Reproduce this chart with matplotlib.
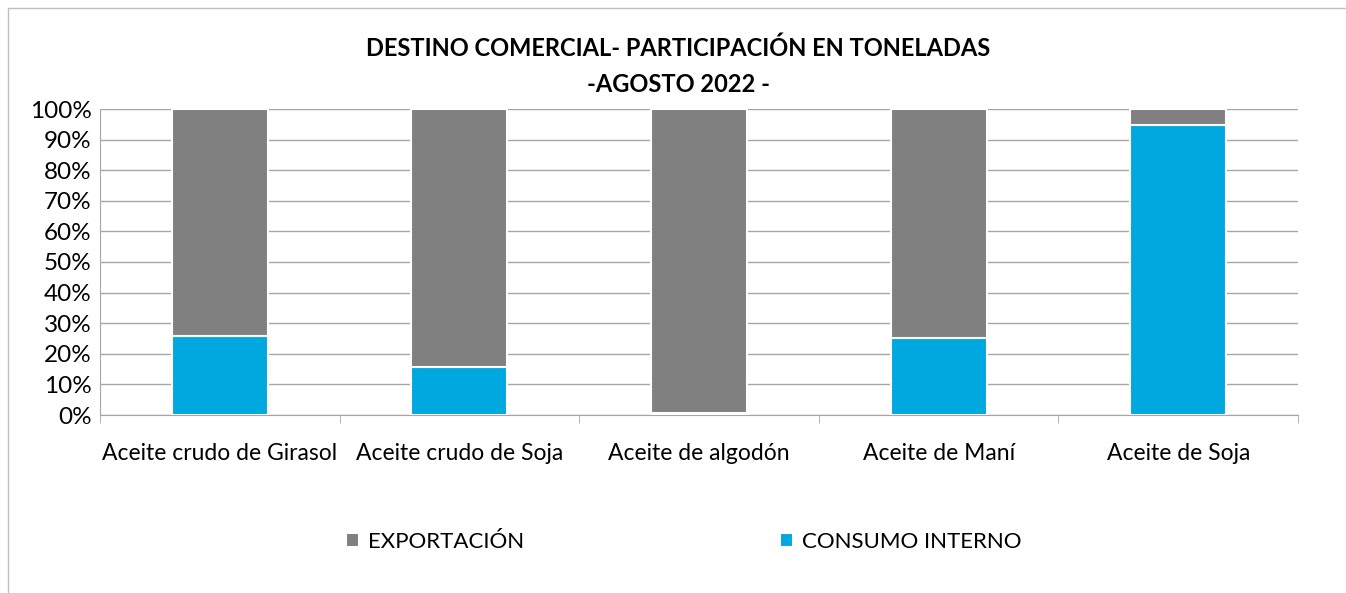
import numpy as np
import matplotlib.pyplot as plt
from matplotlib.patches import Rectangle
from matplotlib.ticker import PercentFormatter

plt.rcParams['font.family'] = ['Lato', 'DejaVu Sans']

categorias = ["Aceite crudo de Girasol", "Aceite crudo de Soja", "Aceite de algodón",
              "Aceite de Maní", "Aceite de Soja"]
consumo_interno = [25.9, 15.7, 0.7, 25.2, 94.8]
exportacion = [74.1, 84.3, 99.3, 74.8, 5.2]

gris = "#808080"
azul = "#00A8E0"
linea = "#a6a6a6"

fig = plt.figure(figsize=(13.46, 5.93), dpi=100)
ax = fig.add_axes([100/1346, 1 - 415/593, 1198/1346, 306/593])

x = np.arange(len(categorias))
ax.bar(x, consumo_interno, width=0.4, color=azul, edgecolor="white", linewidth=1.5,
       label="CONSUMO INTERNO", zorder=3)
ax.bar(x, exportacion, width=0.4, bottom=consumo_interno, color=gris, edgecolor="white",
       linewidth=1.5, label="EXPORTACIÓN", zorder=3)

ax.set_xlim(-0.5, len(categorias) - 0.5)
ax.set_ylim(0, 100)
ax.set_yticks(np.arange(0, 101, 10))
ax.yaxis.set_major_formatter(PercentFormatter(decimals=0))
ax.grid(axis="y", color=linea, linewidth=1, zorder=0)
ax.set_xticks(x)
ax.set_xticklabels(categorias, fontsize=16.5)
ax.set_xticks(np.arange(-0.5, len(categorias)), minor=True)
ax.tick_params(axis="x", which="major", length=0, pad=20)
ax.tick_params(axis="x", which="minor", length=6, color=linea, direction="out")
ax.tick_params(axis="y", length=0, labelsize=17.5, pad=6)
for side in ["top", "right"]:
    ax.spines[side].set_visible(False)
ax.spines["left"].set_color(linea)
ax.spines["bottom"].set_color(linea)

fig.text(0.504, 1 - 48/593, "DESTINO COMERCIAL- PARTICIPACIÓN EN TONELADAS",
         ha="center", va="center", fontsize=17, fontweight="bold")
fig.text(0.504, 1 - 84/593, "-AGOSTO 2022 -", ha="center", va="center",
         fontsize=17, fontweight="bold")

handles, labels = ax.get_legend_handles_labels()
fig.legend(handles[::-1], labels[::-1], loc="center", bbox_to_anchor=(0.508, 1 - 542/593),
           ncol=2, frameon=False, fontsize=16, handlelength=0.6, handleheight=0.6,
           handletextpad=0.4, columnspacing=11.5)

fig.patches.append(Rectangle((8/1346, -0.01), 1.2, 1 - 8/593 + 0.01, transform=fig.transFigure,
                             fill=False, edgecolor="#bfbfbf", linewidth=1))

fig.savefig("out.png", dpi=100)
